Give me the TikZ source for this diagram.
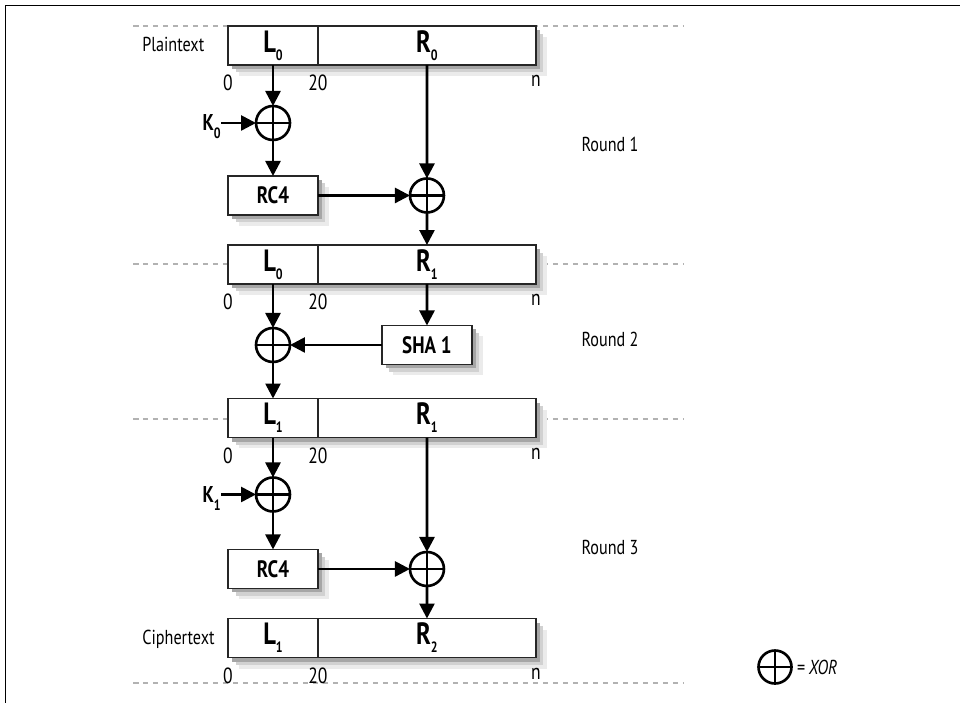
\documentclass[tikz,border=0pt]{standalone}
\usepackage{fontspec}
\setmainfont[FakeStretch=0.8]{PT Sans}
\usepackage{tikz}
\usetikzlibrary{arrows.meta,positioning,shadows}
\newcommand{\lowidx}[1]{\raisebox{-4.5pt}{\fontsize{8.5}{8.5}\selectfont#1}}

\begin{document}
\begin{tikzpicture}[
    x=0.02cm,y=-0.02cm,
    node distance=0.7cm,
    soft/.style={general shadow={fill=black!8,shadow xshift=0.22cm,shadow yshift=-0.22cm},
      general shadow={fill=black!18,shadow xshift=0.15cm,shadow yshift=-0.15cm},
      general shadow={fill=black!35,shadow xshift=0.08cm,shadow yshift=-0.08cm}},
    cell/.style={draw=black!85,line width=0.8pt,fill=white,inner sep=0pt,outer sep=0pt,minimum height=0.78cm,
      soft,font=\fontsize{17.5}{18}\selectfont\bfseries},
    lcell/.style={cell,minimum width=1.8cm},
    rcell/.style={cell,minimum width=4.36cm},
    func/.style={cell,minimum width=1.8cm,font=\fontsize{13.5}{14}\selectfont\bfseries},
    xor/.style={circle,draw,line width=1.5pt,minimum size=0.68cm,inner sep=0pt,outer sep=0pt,
      path picture={\draw[line width=1.5pt] (path picture bounding box.north) -- (path picture bounding box.south)
        (path picture bounding box.west) -- (path picture bounding box.east);}},
    key/.style={inner sep=0pt,font=\fontsize{13}{14}\selectfont\bfseries},
    num/.style={inner sep=0pt,font=\fontsize{12.5}{13}\selectfont},
    side/.style={inner sep=0pt,font=\fontsize{11.5}{12}\selectfont},
    arrow/.style={-{Triangle[length=0.3cm,width=0.3cm]},line width=1.5pt},
    sep/.style={gray!60,line width=0.6pt,dash pattern=on 0.11cm off 0.09cm}
  ]
  \useasboundingbox (0,0) rectangle (960,703);
  \draw[line width=1pt] (5.5,703) -- (5.5,5.5) -- (960,5.5);
  \foreach \y in {26,264,419,683}
    \draw[sep] (133,\y) -- (683,\y);

  % the four blocks
  \node[lcell] (l0) at (273,45.5) {L\lowidx{0}};
  \node[rcell,right=0pt of l0] (r0) {R\lowidx{0}};
  \node[lcell] (l1) at (273,264.5) {L\lowidx{0}};
  \node[rcell,right=0pt of l1] (r1) {R\lowidx{1}};
  \node[lcell] (l2) at (273,418) {L\lowidx{1}};
  \node[rcell,right=0pt of l2] (r2) {R\lowidx{1}};
  \node[lcell] (l3) at (273,638) {L\lowidx{1}};
  \node[rcell,right=0pt of l3] (r3) {R\lowidx{2}};
  \foreach \i in {0,...,3} {
    \node[num,below=0.2cm of l\i.south west] (zero\i) {0};
    \node[num,below=0.2cm of l\i.south east] (twenty\i) {20};
    \node[num,below=0.2cm of r\i.south east] (end\i) {n};
  }

  % round 1
  \node[xor,below=0.82cm of l0] (x1) {};
  \node[key,left=0.7cm of x1] (k0) {K\smash{\lowidx{0}}};
  \node[func,below=0.72cm of x1] (rc1) {RC4};
  \node[xor,right=1.84cm of rc1] (x2) {};
  \draw[arrow] (l0) -- (x1);
  \draw[arrow] (k0) -- (x1);
  \draw[arrow] (x1) -- (rc1);
  \draw[arrow] (r0) -- (x2);
  \draw[arrow] (rc1) -- (x2);
  \draw[arrow] (x2) -- (r1);

  % round 2
  \node[xor,below=0.88cm of l1] (x3) {};
  \node[func,right=1.84cm of x3] (sha) {SHA 1};
  \draw[arrow] (l1) -- (x3);
  \draw[arrow] (r1) -- (sha);
  \draw[arrow] (sha) -- (x3);
  \draw[arrow] (x3) -- (l2);

  % round 3
  \node[xor,below=0.8cm of l2] (x4) {};
  \node[key,left=0.7cm of x4] (k1) {K\smash{\lowidx{1}}};
  \node[func,below=0.76cm of x4] (rc2) {RC4};
  \node[xor,right=1.84cm of rc2] (x5) {};
  \draw[arrow] (l2) -- (x4);
  \draw[arrow] (k1) -- (x4);
  \draw[arrow] (x4) -- (rc2);
  \draw[arrow] (r2) -- (x5);
  \draw[arrow] (rc2) -- (x5);
  \draw[arrow] (x5) -- (r3);

  % side labels and legend
  \node[side,anchor=west] (plain) at (142,44) {Plaintext};
  \node[side,anchor=west] (cipher) at (142,639) {Ciphertext};
  \node[side] (round1) at (610,144) {Round 1};
  \node[side] (round2) at (610,339) {Round 2};
  \node[side] (round3) at (610,547) {Round 3};
  \node[xor,minimum size=0.66cm] (xkey) at (775,667) {};
  \node[side,right=0.1cm of xkey,font=\fontsize{11.5}{12}\selectfont\itshape] (xkeytext) {= XOR};
\end{tikzpicture}
\end{document}
